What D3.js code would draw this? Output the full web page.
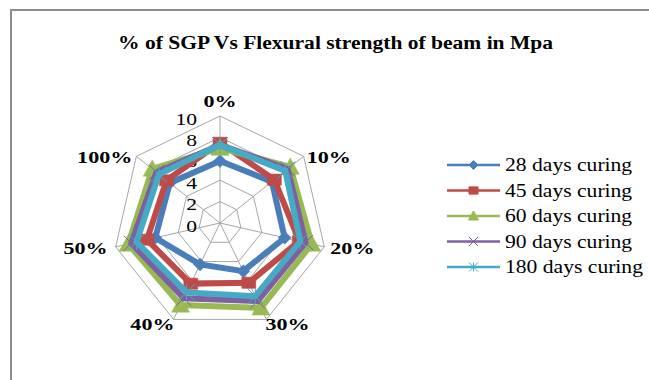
<!DOCTYPE html>
<html><head><meta charset="utf-8">
<script src="https://cdn.jsdelivr.net/npm/d3@7"></script>
<style>body{margin:0;background:#fff}svg{display:block}</style>
</head><body>
<svg id="c" width="649" height="380"></svg>
<script>
const categories = ["0%","10%","20%","30%","40%","50%","100%"];
const seriesNames = ["28 days curing","45 days curing","60 days curing","90 days curing","180 days curing"];
const d28  = [5.8, 6.2, 6.2, 5.0, 4.3, 6.2, 6.0];
const d45  = [7.5, 6.5, 7.6, 6.2, 6.3, 7.0, 6.4];
const d60  = [7.0, 8.4, 8.8, 8.8, 8.5, 8.8, 8.1];
const d90  = [7.3, 8.1, 8.2, 8.1, 7.8, 8.5, 7.6];
const d180 = [7.3, 7.8, 7.7, 7.6, 7.2, 8.0, 7.3];
const tickValues = [0, 2, 4, 6, 8, 10];
const seriesData = [d28, d45, d60, d90, d180];
const colors = ["#4a7ebb","#be4b48","#98b954","#7d60a0","#46aac5"];
const markers = ["diamond","square","triangle","x","star"];
const FONT = "Liberation Serif";

const svg = d3.select("#c");
const cx = 220, cy = 223;
const r = d3.scaleLinear().domain([0, 10]).range([0, 107]);
const ang = d3.scaleLinear().domain([0, categories.length]).range([0, 2*Math.PI]);
const pt = (i, v) => [cx + r(v)*Math.sin(ang(i)), cy - r(v)*Math.cos(ang(i))];

function stretch(sel, target) {
  sel.each(function(){
    const w = this.getComputedTextLength();
    const t = typeof target === "function" ? target(w, this) : target;
    d3.select(this).attr("textLength", t).attr("lengthAdjust", "spacingAndGlyphs");
  });
}

// border
svg.append("rect").attr("x", 11).attr("y", 10).attr("width", 700).attr("height", 400)
  .attr("fill", "none").attr("stroke", "#8c8c8c").attr("stroke-width", 2);

// title
const title = svg.append("text").attr("x", 335.5).attr("y", 49).attr("text-anchor", "middle")
  .attr("font-family", FONT).attr("font-weight", "bold").attr("font-size", 18)
  .attr("fill", "#000").text("% of SGP Vs Flexural strength of beam in Mpa");
stretch(title, 435);

// grid
const g = svg.append("g");
tickValues.slice(1).forEach(t => {
  g.append("path").attr("d", d3.line()(categories.map((c, i) => pt(i, t))) + "Z")
    .attr("fill", "none").attr("stroke", "#a6a6a6").attr("stroke-width", 1);
});
categories.forEach((c, i) => {
  const p = pt(i, 10);
  g.append("line").attr("x1", cx).attr("y1", cy).attr("x2", p[0]).attr("y2", p[1])
    .attr("stroke", "#a6a6a6").attr("stroke-width", 1);
});

// tick labels
const tl = svg.append("g").selectAll("text").data(tickValues).join("text")
  .attr("x", 197).attr("y", d => cy - r(d) + 3).attr("dy", "0.35em")
  .attr("text-anchor", "end").attr("font-family", FONT).attr("font-size", 16)
  .attr("fill", "#000").text(d => d);
stretch(tl, w => w * 1.35);

// category labels
const cl = svg.append("g").selectAll("text").data(categories).join("text")
  .attr("font-family", FONT).attr("font-weight", "bold").attr("font-size", 17)
  .attr("fill", "#000").text(d => d)
  .each(function(d, i) {
    const p = pt(i, 10);
    const s = Math.sin(ang(i)), co = Math.cos(ang(i));
    let x = p[0], y = p[1], anchor = "middle", dy = "0.35em";
    if (Math.abs(s) < 0.1) { y = p[1] - 15; }
    else if (co < -0.8) { anchor = s > 0 ? "start" : "end"; x = p[0] + (s > 0 ? -1 : 1); y = p[1] + 5; }
    else { anchor = s > 0 ? "start" : "end"; x = p[0] + (s > 0 ? 3 : -4) * (Math.abs(co) < 0.5 ? 2 : 1); y = p[1] + 1; }
    d3.select(this).attr("x", x).attr("y", y).attr("dy", dy).attr("text-anchor", anchor);
  });
stretch(cl, w => w * 1.3);

// marker path generator
function markerPath(type, size) {
  const h = size / 2;
  switch (type) {
    case "diamond": return `M0,${-h}L${h},0L0,${h}L${-h},0Z`;
    case "square": return `M${-h},${-h*0.8}H${h}V${h*0.8}H${-h}Z`;
    case "triangle": return `M0,${-h}L${h},${h*0.8}L${-h},${h*0.8}Z`;
    case "x": return `M${-h},${-h}L${h},${h}M${h},${-h}L${-h},${h}`;
    case "star": return `M${-h},${-h}L${h},${h}M${h},${-h}L${-h},${h}M0,${-h}V${h}`;
  }
}
const msize = [13, 14, 18, 15, 16];

// series
const radial = d3.lineRadial().angle((d, i) => ang(i)).radius(d => r(d)).curve(d3.curveLinearClosed);
seriesData.forEach((data, si) => {
  const sg = svg.append("g").attr("transform", `translate(${cx},${cy})`);
  sg.append("path").attr("d", radial(data)).attr("fill", "none")
    .attr("stroke", colors[si]).attr("stroke-width", 6).attr("stroke-linejoin", "miter");
  sg.selectAll("path.m").data(data).join("path").attr("class", "m")
    .attr("transform", (d, i) => `translate(${r(d)*Math.sin(ang(i))},${-r(d)*Math.cos(ang(i))})`)
    .attr("d", markerPath(markers[si], msize[si]))
    .attr("fill", (markers[si] === "x" || markers[si] === "star") ? "none" : colors[si])
    .attr("stroke", colors[si]).attr("stroke-width", (markers[si] === "x" || markers[si] === "star") ? 1 : 0.5);
});

// legend
const legY = [165, 190.5, 216, 241.5, 267];
const lg = svg.append("g");
seriesNames.forEach((name, si) => {
  const y = legY[si];
  lg.append("line").attr("x1", 447).attr("x2", 500).attr("y1", y).attr("y2", y)
    .attr("stroke", colors[si]).attr("stroke-width", 2.5);
  lg.append("path").attr("transform", `translate(473.5,${y})`)
    .attr("d", markerPath(markers[si], si === 2 ? 10 : 9))
    .attr("fill", (markers[si] === "x" || markers[si] === "star") ? "none" : colors[si])
    .attr("stroke", colors[si]).attr("stroke-width", 1);
  const t = lg.append("text").attr("x", 505).attr("y", y).attr("dy", "0.35em")
    .attr("font-family", FONT).attr("font-size", 18).attr("fill", "#000").text(name);
  stretch(t, w => w * 1.2);
});
</script>
</body></html>
